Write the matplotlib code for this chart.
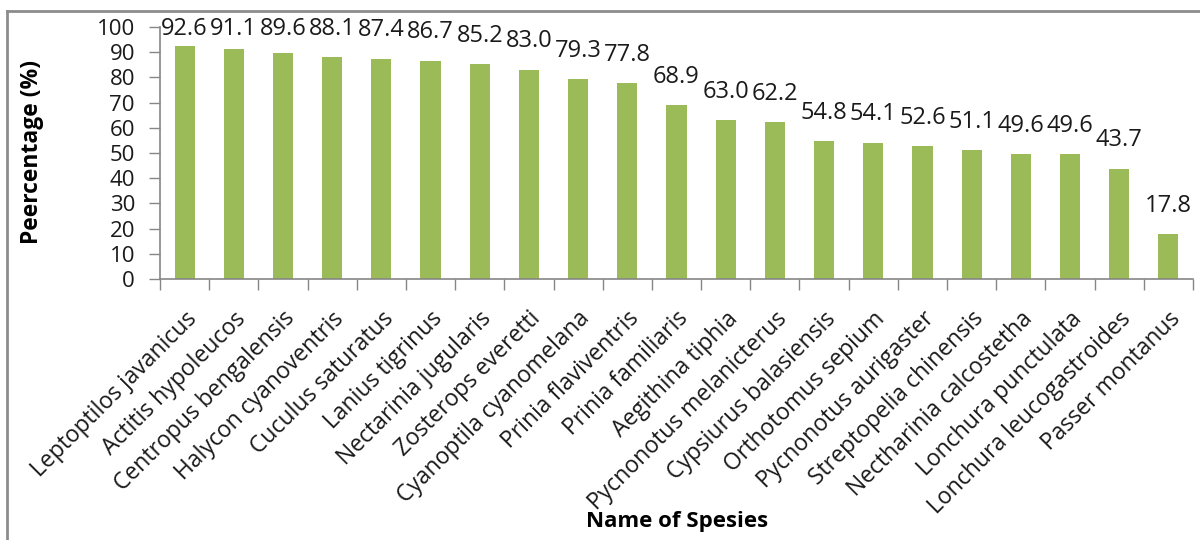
import numpy as np
import matplotlib.pyplot as plt
from matplotlib.lines import Line2D

species = [
    "Leptoptilos javanicus", "Actitis hypoleucos", "Centropus bengalensis",
    "Halycon cyanoventris", "Cuculus saturatus", "Lanius tigrinus",
    "Nectarinia jugularis", "Zosterops everetti", "Cyanoptila cyanomelana",
    "Prinia flaviventris", "Prinia familiaris", "Aegithina tiphia",
    "Pycnonotus melanicterus", "Cypsiurus balasiensis", "Orthotomus sepium",
    "Pycnonotus aurigaster", "Streptopelia chinensis", "Nectharinia calcostetha",
    "Lonchura punctulata", "Lonchura leucogastroides", "Passer montanus",
]
percentage = [92.6, 91.1, 89.6, 88.1, 87.4, 86.7, 85.2, 83.0, 79.3, 77.8, 68.9,
              63.0, 62.2, 54.8, 54.1, 52.6, 51.1, 49.6, 49.6, 43.7, 17.8]
yticks = [0, 10, 20, 30, 40, 50, 60, 70, 80, 90, 100]

BAR_COLOR = "#9BBB59"
AXIS_COLOR = "#868686"
TEXT_COLOR = "#1A1A1A"

plt.rcParams["font.family"] = ["Open Sans", "DejaVu Sans"]

fig = plt.figure(figsize=(12, 5.4), dpi=100)
ax = fig.add_axes([160 / 1200, 1 - 279 / 540, 1033 / 1200, 252 / 540])

x = np.arange(len(species))
ax.bar(x, percentage, width=0.41, color=BAR_COLOR, zorder=2)

# value labels sit above each bar but are kept inside the plot area
for xi, v in zip(x, percentage):
    ax.text(xi, min(v + 6.5, 94.5), f"{v:.1f}", ha="center", va="bottom",
            fontsize=17, color=TEXT_COLOR, clip_on=False)

ax.set_xlim(-0.5, len(species) - 0.5)
ax.set_ylim(0, 100)
ax.set_yticks(yticks)
ax.tick_params(axis="y", labelsize=16, length=8, width=1, color=AXIS_COLOR,
               labelcolor=TEXT_COLOR, pad=10)

# ticks between categories, names centred under bars
ax.set_xticks(np.arange(len(species) + 1) - 0.5)
ax.set_xticklabels([])
ax.tick_params(axis="x", length=8, width=1, color=AXIS_COLOR)
ax.set_xticks(x, minor=True)
ax.set_xticklabels(species, minor=True, rotation=45, ha="right",
                   rotation_mode="anchor", fontsize=16.5, color=TEXT_COLOR)
ax.tick_params(axis="x", which="minor", length=0, pad=20)

for side in ("top", "right"):
    ax.spines[side].set_visible(False)
for side in ("left", "bottom"):
    ax.spines[side].set_color(AXIS_COLOR)
    ax.spines[side].set_linewidth(1.2)

fig.text(32 / 1200, 1 - 152 / 540, "Peercentage (%)", rotation=90,
         ha="center", va="center", fontsize=16.5, fontweight="bold")
fig.text(677 / 1200, 1 - 522 / 540, "Name of Spesies", ha="center",
         va="center", fontsize=16, fontweight="bold")

# outer chart frame
fig.add_artist(Line2D([7 / 1200, 1], [1 - 11 / 540, 1 - 11 / 540],
                      transform=fig.transFigure, color="#8C8C8C", lw=2))
fig.add_artist(Line2D([7 / 1200, 7 / 1200], [0, 1 - 11 / 540],
                      transform=fig.transFigure, color="#8C8C8C", lw=2))

fig.savefig("out.png", dpi=100)
